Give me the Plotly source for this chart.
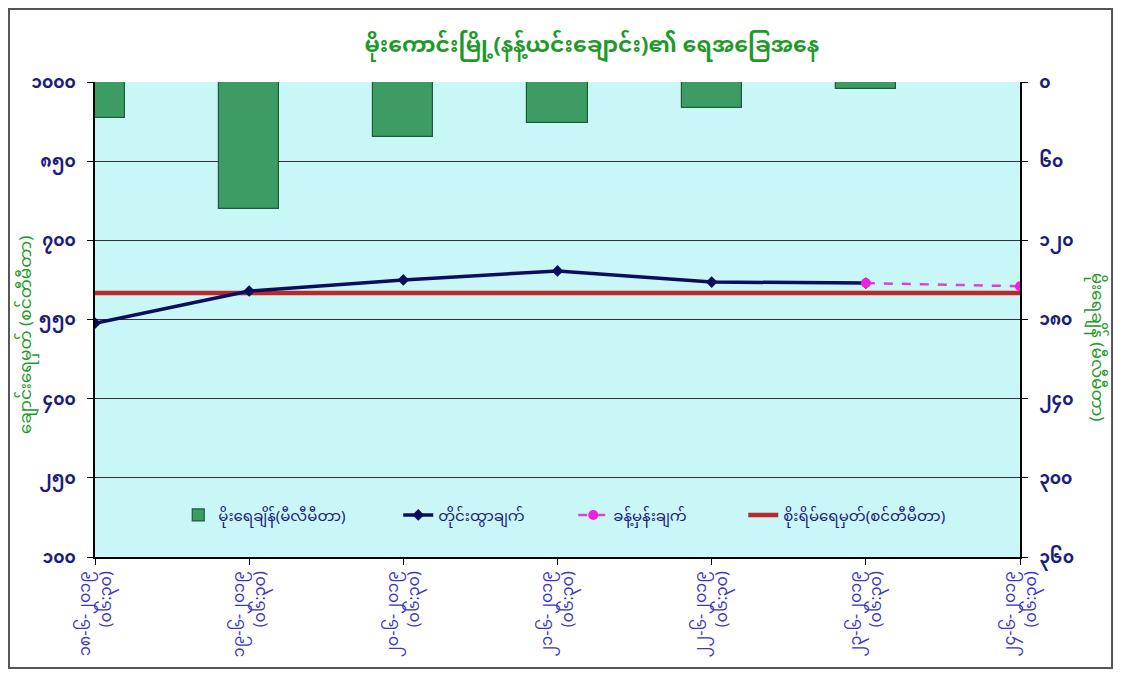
import plotly.graph_objects as go

# ---------------- data ----------------
dates = ["၁၈-၆-၂၀၁၉", "၁၉-၆-၂၀၁၉", "၂၀-၆-၂၀၁၉", "၂၁-၆-၂၀၁၉",
         "၂၂-၆-၂၀၁၉", "၂၃-၆-၂၀၁၉", "၂၄-၆-၂၀၁၉"]
times = ["(၀၆:၃၀)"] * 7
x_pos = [0, 1, 2, 3, 4, 5, 6]

rainfall_mm = [27, 96, 42, 31, 20, 5, 0]             # right axis (reversed)
water_level_obs = [543, 604, 625, 642, 621, 619]      # measured, first six days
forecast_x = [5, 6]
water_level_fc = [619, 613]                           # forecast
danger_level = [600, 600, 600, 600, 600, 600, 600]

left_tickvals = [100, 250, 400, 550, 700, 850, 1000]
left_ticktext = ["၁၀၀", "၂၅၀", "၄၀၀", "၅၅၀", "၇၀၀", "၈၅၀", "၁၀၀၀"]
right_tickvals = [0, 60, 120, 180, 240, 300, 360]
right_ticktext = ["၀", "၆၀", "၁၂၀", "၁၈၀", "၂၄၀", "၃၀၀", "၃၆၀"]

title_text = "မိုးကောင်းမြို့(နန့်ယင်းချောင်း)၏ ရေအခြေအနေ"
left_title = "ချောင်းရေမှတ် (စင်တီမီတာ)"
right_title = "မိုးရေချိန် (မီလီမီတာ)"
legend_names = ["မိုးရေချိန်(မီလီမီတာ)", "တိုင်းထွာချက်", "ခန့်မှန်းချက်",
                "စိုးရိမ်ရေမှတ်(စင်တီမီတာ)"]

FONT = "Noto Sans Myanmar, Padauk, Myanmar Text, Noto Sans, sans-serif"
NAVY = "#1c1c7a"
GREEN = "#1f9a2a"

fig = go.Figure()

fig.add_trace(go.Bar(
    x=x_pos, y=rainfall_mm, yaxis="y2", name=legend_names[0], legendrank=1,
    legendwidth=175,
    width=0.39, marker=dict(color="#3d9c63", line=dict(color="#1e5c38", width=1.2)),
))
fig.add_trace(go.Scatter(
    x=x_pos, y=danger_level, name=legend_names[3], legendrank=4, legendwidth=170,
    mode="lines", line=dict(color="#b8282c", width=4.5),
))
fig.add_trace(go.Scatter(
    x=x_pos[:len(water_level_obs)], y=water_level_obs, name=legend_names[1],
    legendrank=2, legendwidth=130,
    mode="lines+markers", line=dict(color="#0d0d5e", width=3.5),
    marker=dict(symbol="diamond", size=9, color="#0d0d5e"),
))
fig.add_trace(go.Scatter(
    x=forecast_x, y=water_level_fc, name=legend_names[2], legendrank=3,
    legendwidth=125,
    mode="lines+markers", line=dict(color="#e040d0", width=2.5, dash="dash"),
    marker=dict(symbol="circle", size=10, color="#ee22dd"),
))

fig.update_layout(
    width=1109, height=666,
    margin=dict(l=87, r=97, t=74, b=117),
    paper_bgcolor="white", plot_bgcolor="#c9f7f7",
    font=dict(family=FONT, color=NAVY, size=13),
    title=dict(text="<b>" + title_text + "</b>", x=0.5265, xanchor="center",
               y=0.945, yanchor="middle",
               font=dict(family=FONT, size=22, color=GREEN)),
    showlegend=True,
    legend=dict(orientation="h", x=0.09, xanchor="left", y=0.088, yanchor="middle",
                bgcolor="rgba(0,0,0,0)", font=dict(family=FONT, size=15, color=NAVY),
                traceorder="normal"),
    bargap=0,
    xaxis=dict(range=[0, 6], tickvals=x_pos,
               ticktext=[d + "<br>" + t for d, t in zip(dates, times)],
               tickangle=-90, ticks="outside", ticklen=6, tickcolor="black",
               showline=True, linecolor="black", linewidth=1.5, showgrid=False,
               zeroline=False, tickfont=dict(family=FONT, size=16, color="#3a36c4")),
    yaxis=dict(range=[100, 1000], tickvals=left_tickvals, ticktext=left_ticktext,
               ticks="outside", ticklen=6, tickcolor="black", ticklabelstandoff=8,
               showline=True, linecolor="black", linewidth=1.5,
               showgrid=True, gridcolor="#333333", gridwidth=1, zeroline=False,
               tickfont=dict(family=FONT, size=17, color=NAVY, weight="bold")),
    yaxis2=dict(range=[360, 0], tickvals=right_tickvals, ticktext=right_ticktext,
                overlaying="y", side="right", ticks="outside", ticklen=6,
                ticklabelstandoff=8,
                tickcolor="black", showline=True, linecolor="black", linewidth=1.5,
                showgrid=False, zeroline=False,
                tickfont=dict(family=FONT, size=17, color=NAVY, weight="bold")),
)

# axis titles
fig.add_annotation(text=left_title, xref="paper", yref="paper", x=-0.0735, y=0.467,
                   xanchor="center", yanchor="middle",
                   textangle=-90, showarrow=False,
                   font=dict(family=FONT, size=17, color=GREEN))
fig.add_annotation(text=right_title, xref="paper", yref="paper", x=1.0825, y=0.442,
                   xanchor="center", yanchor="middle",
                   textangle=90, showarrow=False,
                   font=dict(family=FONT, size=17, color=GREEN))

# outer frame
fig.add_shape(type="rect", xref="paper", yref="paper",
              x0=-0.093, x1=1.0995, y0=-0.2337, y1=1.1537,
              line=dict(color="#555555", width=2), fillcolor="rgba(0,0,0,0)", layer="below")

fig.write_html("out.html")
